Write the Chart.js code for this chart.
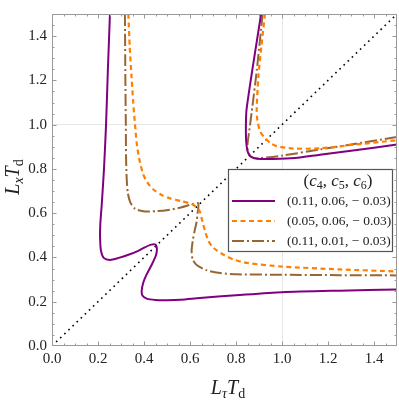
<!DOCTYPE html>
<html>
<head>
<meta charset="utf-8">
<script src="https://cdn.jsdelivr.net/npm/chart.js@4.4.0/dist/chart.umd.min.js"></script>
<style>
  html, body { margin: 0; padding: 0; background: #fff; }
  #wrap { width: 399px; height: 400px; }
</style>
</head>
<body>
<div id="wrap"><canvas id="chart" width="399" height="400"></canvas></div>
<script>
// ---- data: x = L_tau T_d, y = L_x T_d ----
const tickStep = 0.2;
const axisMin = 0;
const axisMax = 1.5;

const seriesLabels = ['(0.11, 0.06, − 0.03)', '(0.05, 0.06, − 0.03)', '(0.11, 0.01, − 0.03)'];

// (0.11, 0.06, -0.03) purple
const purpleLowX = [0.252, 0.243, 0.235, 0.226, 0.216, 0.210, 0.209, 0.213, 0.226, 0.252, 0.290, 0.332, 0.375, 0.404, 0.432, 0.450, 0.456, 0.452, 0.433, 0.410, 0.397, 0.390, 0.393, 0.412, 0.450, 0.500, 0.560, 0.643, 0.800, 1.000, 1.250, 1.500];
const purpleLowY = [1.500, 1.250, 1.000, 0.800, 0.635, 0.550, 0.490, 0.430, 0.397, 0.389, 0.398, 0.412, 0.430, 0.446, 0.458, 0.458, 0.440, 0.410, 0.366, 0.320, 0.287, 0.250, 0.228, 0.214, 0.208, 0.207, 0.209, 0.217, 0.229, 0.243, 0.250, 0.255];
const purpleHighX = [0.909, 0.846, 0.843, 0.846, 0.852, 0.865, 0.890, 0.960, 1.057, 1.165, 1.300, 1.500];
const purpleHighY = [1.500, 1.070, 0.960, 0.905, 0.875, 0.855, 0.846, 0.845, 0.849, 0.864, 0.882, 0.910];

// (0.05, 0.06, -0.03) orange
const orangeLowX = [0.332, 0.338, 0.346, 0.353, 0.361, 0.368, 0.378, 0.395, 0.415, 0.441, 0.475, 0.513, 0.560, 0.607, 0.630, 0.643, 0.650, 0.658, 0.668, 0.680, 0.696, 0.716, 0.750, 0.788, 0.850, 1.000, 1.250, 1.500];
const orangeLowY = [1.500, 1.350, 1.214, 1.100, 1.000, 0.920, 0.852, 0.780, 0.738, 0.707, 0.683, 0.667, 0.655, 0.642, 0.626, 0.607, 0.580, 0.548, 0.510, 0.475, 0.450, 0.432, 0.410, 0.391, 0.375, 0.359, 0.346, 0.337];
const orangeHighX = [0.926, 0.910, 0.897, 0.890, 0.893, 0.905, 0.926, 0.950, 0.977, 1.049, 1.165, 1.300, 1.500];
const orangeHighY = [1.500, 1.350, 1.214, 1.070, 1.020, 0.970, 0.939, 0.917, 0.903, 0.892, 0.893, 0.908, 0.930];

// (0.11, 0.01, -0.03) brown
const brownLowX = [0.317, 0.319, 0.321, 0.322, 0.325, 0.330, 0.340, 0.361, 0.397, 0.450, 0.499, 0.560, 0.614, 0.636, 0.633, 0.629, 0.620, 0.612, 0.607, 0.612, 0.629, 0.673, 0.730, 0.803, 1.000, 1.250, 1.500];
const brownLowY = [1.500, 1.200, 1.000, 0.852, 0.750, 0.690, 0.650, 0.620, 0.609, 0.609, 0.613, 0.626, 0.642, 0.645, 0.600, 0.562, 0.520, 0.475, 0.430, 0.390, 0.366, 0.342, 0.330, 0.324, 0.322, 0.320, 0.319];
const brownHighX = [0.916, 0.890, 0.868, 0.856, 0.850, 0.851, 0.861, 0.880, 0.904, 1.000, 1.165, 1.300, 1.500];
const brownHighY = [1.500, 1.243, 1.055, 0.960, 0.910, 0.880, 0.859, 0.850, 0.849, 0.860, 0.888, 0.910, 0.945];

const diagX = [0, 1.5];
const diagY = [0, 1.5];

const colors = ['#800080', '#ff8000', '#996633'];
const dashes = [[], [5, 3.5], [12, 3, 2, 3]];
const widths = [2, 2.2, 2];

const pts = (xs, ys) => xs.map((x, i) => ({ x: x, y: ys[i] }));
const serif = 'Liberation Serif, Times New Roman, serif';

function curve(xs, ys, k) {
    return {
        data: pts(xs, ys),
        showLine: true,
        borderColor: colors[k],
        borderWidth: widths[k],
        borderDash: dashes[k],
        pointRadius: 0,
        tension: 0.25,
        fill: false
    };
}

// draw text pieces (italic, subscripts) centred on cx
function drawRuns(ctx, runs, cx, baseY) {
    let total = 0;
    runs.forEach(r => {
        ctx.font = r.font;
        r.w = ctx.measureText(r.t).width;
        total += r.w + (r.dx || 0);
    });
    let xx = cx - total / 2;
    runs.forEach(r => {
        ctx.font = r.font;
        xx += (r.dx || 0);
        ctx.fillText(r.t, xx, baseY + (r.dy || 0));
        xx += r.w;
    });
}

const decorations = {
    id: 'decorations',
    afterDatasetsDraw(chart) {
        const ctx = chart.ctx;
        // legend box
        const bx = 228, by = 169, bw = 164, bh = 82;
        ctx.save();
        ctx.fillStyle = '#fff';
        ctx.fillRect(bx, by, bw, bh);
        ctx.strokeStyle = '#555';
        ctx.lineWidth = 1.2;
        ctx.strokeRect(bx + 0.5, by + 0.5, bw, bh);

        ctx.fillStyle = '#222';
        ctx.textBaseline = 'alphabetic';
        const big = '17px ' + serif, ital = 'italic 17px ' + serif, sub = '12px ' + serif;
        drawRuns(ctx, [
            { t: '(', font: big }, { t: 'c', font: ital }, { t: '4', font: sub, dy: 3 },
            { t: ', ', font: big }, { t: 'c', font: ital }, { t: '5', font: sub, dy: 3 },
            { t: ', ', font: big }, { t: 'c', font: ital }, { t: '6', font: sub, dy: 3 },
            { t: ')', font: big }
        ], 338, 186);

        const rows = [201, 221, 241];
        rows.forEach((ry, k) => {
            ctx.beginPath();
            ctx.strokeStyle = colors[k];
            ctx.lineWidth = widths[k];
            ctx.setLineDash(dashes[k]);
            ctx.moveTo(232, ry);
            ctx.lineTo(275, ry);
            ctx.stroke();
            ctx.setLineDash([]);
            ctx.font = '13.5px ' + serif;
            ctx.fillStyle = '#222';
            ctx.textBaseline = 'middle';
            ctx.fillText(seriesLabels[k], 287, ry + 0.5);
        });
        ctx.restore();
    },
    afterDraw(chart) {
        const { ctx, chartArea: a, scales } = chart;
        const x = scales.x, y = scales.y;
        ctx.save();
        // frame and inward ticks
        ctx.strokeStyle = '#9a9a9a';
        ctx.lineWidth = 1;
        ctx.strokeRect(a.left + 0.5, a.top + 0.5, a.right - a.left - 1, a.bottom - a.top - 1);
        ctx.beginPath();
        for (let k = 1; k < 30; k++) {
            const v = k * 0.05;
            const len = k % 4 === 0 ? 4.5 : 2.5;
            const px = Math.round(x.getPixelForValue(v)) + 0.5;
            const py = Math.round(y.getPixelForValue(v)) + 0.5;
            ctx.moveTo(px, a.bottom); ctx.lineTo(px, a.bottom - len);
            ctx.moveTo(px, a.top); ctx.lineTo(px, a.top + len);
            ctx.moveTo(a.left, py); ctx.lineTo(a.left + len, py);
            ctx.moveTo(a.right, py); ctx.lineTo(a.right - len, py);
        }
        ctx.stroke();

        // axis titles
        ctx.fillStyle = '#222';
        ctx.textBaseline = 'alphabetic';
        const it = 'italic 20px ' + serif, itSub = 'italic 14px ' + serif, sub = '14px ' + serif;
        drawRuns(ctx, [
            { t: 'L', font: it }, { t: 'τ', font: itSub, dy: 4 },
            { t: 'T', font: it, dx: 0 }, { t: 'd', font: sub, dy: 4 }
        ], 228, 394);

        ctx.translate(19, 177);
        ctx.rotate(-Math.PI / 2);
        drawRuns(ctx, [
            { t: 'L', font: it }, { t: 'x', font: itSub, dy: 4 },
            { t: 'T', font: it }, { t: 'd', font: sub, dy: 4 }
        ], 0, 0);
        ctx.restore();
    }
};

const tickFont = { family: serif, size: 15 };
const tickLabel = v => (v > 1.45 ? null : v.toFixed(1));
const gridAtOne = c => (c.tick && Math.abs(c.tick.value - 1) < 1e-9 ? '#e6e6e6' : 'rgba(0,0,0,0)');

new Chart(document.getElementById('chart'), {
    type: 'scatter',
    data: {
        datasets: [
            curve(purpleLowX, purpleLowY, 0),
            curve(purpleHighX, purpleHighY, 0),
            curve(orangeLowX, orangeLowY, 1),
            curve(orangeHighX, orangeHighY, 1),
            curve(brownLowX, brownLowY, 2),
            curve(brownHighX, brownHighY, 2),
            {
                data: pts(diagX, diagY),
                showLine: true,
                borderColor: '#000',
                borderWidth: 1.6,
                borderDash: [1.6, 4.1],
                pointRadius: 0,
                fill: false
            }
        ]
    },
    options: {
        responsive: false,
        animation: false,
        devicePixelRatio: 1,
        layout: { padding: { top: 1, right: 2, left: 0, bottom: 0 } },
        plugins: { legend: { display: false }, tooltip: { enabled: false } },
        scales: {
            x: {
                type: 'linear', min: axisMin, max: axisMax,
                afterFit: s => { s.height = 54; },
                border: { display: false },
                grid: { color: gridAtOne, drawTicks: false },
                ticks: { stepSize: tickStep, includeBounds: false, autoSkip: false, maxRotation: 0, padding: 4, color: '#222', font: tickFont, callback: tickLabel }
            },
            y: {
                type: 'linear', min: axisMin, max: axisMax,
                afterFit: s => { s.width = 52; },
                border: { display: false },
                grid: { color: gridAtOne, drawTicks: false },
                ticks: { stepSize: tickStep, includeBounds: false, autoSkip: false, padding: 5, color: '#222', font: tickFont, callback: tickLabel }
            }
        }
    },
    plugins: [decorations]
});
</script>
</body>
</html>
